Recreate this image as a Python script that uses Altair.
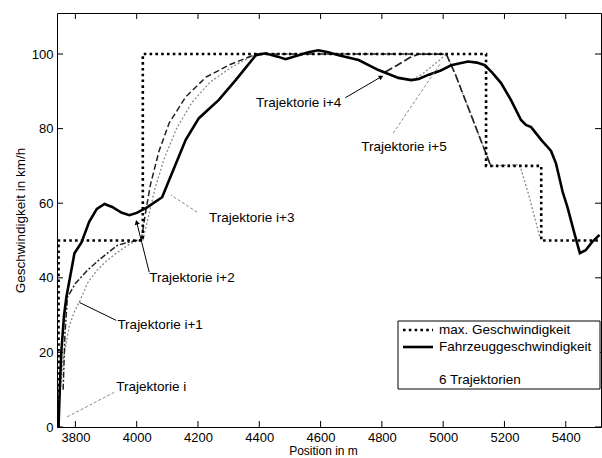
import altair as alt
import pandas as pd

# ---------------- data ----------------
x_ticks = [3800, 4000, 4200, 4400, 4600, 4800, 5000, 5200, 5400]
y_ticks = [0, 20, 40, 60, 80, 100]

vmax_pos = [3745, 3745, 4020, 4020, 5140, 5140, 5320, 5320, 5515]
vmax_val = [0, 50, 50, 100, 100, 70, 70, 50, 50]

veh_pos = [3745, 3749, 3754, 3763, 3771, 3780, 3797, 3820, 3845, 3870, 3895, 3920,
           3950, 3976, 4000, 4034, 4083, 4106, 4160, 4203, 4268, 4323, 4389, 4420,
           4460, 4486, 4528, 4560, 4593, 4625, 4659, 4724, 4789, 4854, 4896, 4920,
           4951, 4990, 5026, 5081, 5110, 5136, 5160, 5189, 5221, 5254, 5270, 5287,
           5320, 5352, 5368, 5390, 5406, 5428, 5446, 5465, 5485, 5510]
veh_val = [0, 10, 20, 30, 35, 39, 46.6, 49.5, 55, 58.5, 59.8, 59,
           57.5, 56.8, 57.4, 58.9, 61.6, 66.2, 77, 82.8, 87.7, 93, 99.7, 100.2,
           99.3, 98.6, 99.7, 100.5, 101, 100.5, 99.7, 98.4, 95.7, 93.6, 93, 93.3,
           94.4, 95.5, 97, 98, 97.7, 97, 95, 92.2, 87.7, 82.3, 81, 80.4,
           77, 74, 70.7, 63, 58.8, 52, 46.6, 47.4, 49.5, 51.5]

# six trajectories
tr0_pos = [3760, 3766, 3774, 3800, 3839, 3880, 3937, 3980, 4018]
tr0_val = [10, 25, 34.8, 38.5, 42, 45, 48.7, 49.7, 50.3]
tr1_pos = [3745, 3748, 3760, 3780, 3797, 3813, 3839, 3870, 3904, 3945, 3982, 4018]
tr1_val = [0, 7, 18, 27, 31, 33.5, 38.5, 42, 44.7, 47.3, 49.3, 50.3]
tr2_pos = [4015, 4030, 4045, 4073, 4106, 4160, 4226, 4300, 4389, 4900]
tr2_val = [50, 58, 65, 74, 81.5, 88.5, 93.8, 97, 100, 100]
tr3_pos = [4020, 4040, 4060, 4090, 4130, 4180, 4240, 4310, 4390]
tr3_val = [50, 57, 64, 72, 80, 87, 92.5, 96.5, 100]
tr4_pos = [4811, 4850, 4890, 4920, 5010, 5040, 5080, 5120, 5146, 5155]
tr4_val = [95.2, 97, 99, 100, 100, 94.5, 86, 77.5, 72, 70]
tr5_pos = [4900, 4930, 4960, 4990, 5010, 5040, 5080, 5120, 5146, 5155, 5250, 5280, 5315]
tr5_val = [93.2, 94.5, 96.5, 98.5, 100, 94.5, 86, 77.5, 72, 70, 70.3, 62, 51]

# annotations (label anchor and pointer end, in data units)
ann_text = ["Trajektorie i", "Trajektorie i+1", "Trajektorie i+2",
            "Trajektorie i+3", "Trajektorie i+4", "Trajektorie i+5"]
ann_pos = [3933, 3937, 4041, 4236, 4389, 4733]
ann_val = [10.6, 27.3, 39.9, 56.0, 86.9, 75.1]
ptr_from_pos = [3927, 3933, 4041, 4197, 4681, 4837]
ptr_from_val = [9.3, 28.6, 41.5, 57.6, 88.3, 78.8]
ptr_to_pos = [3771, 3813, 4000, 4112, 4798, 4993]
ptr_to_val = [2.6, 33.4, 54.9, 62.2, 93.9, 97.7]
ptr_grey = [True, False, False, True, False, True]
# arrow heads on the black pointers (i+2, i+4)
arrow_pos = [4000, 4798]
arrow_val = [54.9, 93.9]
arrow_angle = [345, 60]

legend_labels = ["max. Geschwindigkeit", "Fahrzeuggeschwindigkeit", "6 Trajektorien"]

# ---------------- chart ----------------
W, H = 544, 414
FONT = "Liberation Sans"
xs = alt.Scale(domain=[3740, 5515], nice=False, zero=False)
ys = alt.Scale(domain=[0, 111], nice=False, zero=False)


def df_line(p, v):
    return pd.DataFrame({"pos": p, "v": v, "i": list(range(len(p)))})


def line_layer(p, v, **kw):
    return alt.Chart(df_line(p, v)).mark_line(**kw).encode(
        x=alt.X("pos:Q", scale=xs,
                axis=alt.Axis(values=x_ticks, title="Position in m", grid=False,
                              ticks=False, domain=False, labelFontSize=13,
                              labelFont=FONT, titleFont=FONT, titleFontSize=12,
                              titleFontWeight="normal", labelPadding=4,
                              titlePadding=1, labelColor="black", titleColor="black",
                              titleX=266, titleAnchor="middle",
                              format="d")),
        y=alt.Y("v:Q", scale=ys,
                axis=alt.Axis(values=y_ticks, title="Geschwindigkeit in km/h", grid=False,
                              ticks=False, domain=False, labelFontSize=13,
                              labelFont=FONT, titleFont=FONT, titleFontSize=13.5,
                              titleFontWeight="normal", labelPadding=4,
                              titlePadding=4, labelColor="black", titleColor="black")),
        order="i:Q",
    )


layers = []
layers.append(line_layer(tr1_pos, tr1_val, color="#8a8a8a", strokeWidth=1.3, strokeDash=[2, 2]))
layers.append(line_layer(tr0_pos, tr0_val, color="#222222", strokeWidth=1.5, strokeDash=[6, 2, 2, 2]))
layers.append(line_layer(tr3_pos, tr3_val, color="#8a8a8a", strokeWidth=1.3, strokeDash=[2, 2]))
layers.append(line_layer(tr2_pos, tr2_val, color="#222222", strokeWidth=1.5, strokeDash=[6, 3]))
layers.append(line_layer(tr5_pos, tr5_val, color="#8a8a8a", strokeWidth=1.3, strokeDash=[2, 2]))
layers.append(line_layer(tr4_pos, tr4_val, color="#222222", strokeWidth=1.7, strokeDash=[8, 3]))
layers.append(line_layer(vmax_pos, vmax_val, color="black", strokeWidth=2.6, strokeDash=[2.6, 3.2]))
layers.append(line_layer(veh_pos, veh_val, color="black", strokeWidth=2.6))

# inward tick marks
xt = pd.DataFrame({"t": x_ticks})
yt = pd.DataFrame({"t": y_ticks})
tick_style = dict(color="black", strokeWidth=1)
layers.append(alt.Chart(xt).mark_rule(**tick_style).encode(
    x=alt.X("t:Q", scale=xs), y=alt.value(H), y2=alt.value(H - 6)))
layers.append(alt.Chart(xt).mark_rule(**tick_style).encode(
    x=alt.X("t:Q", scale=xs), y=alt.value(0), y2=alt.value(6)))
layers.append(alt.Chart(yt).mark_rule(**tick_style).encode(
    y=alt.Y("t:Q", scale=ys), x=alt.value(0), x2=alt.value(6)))
layers.append(alt.Chart(yt).mark_rule(**tick_style).encode(
    y=alt.Y("t:Q", scale=ys), x=alt.value(W), x2=alt.value(W - 6)))

# annotation pointers
ptr = pd.DataFrame({"p1": ptr_from_pos, "v1": ptr_from_val,
                    "p2": ptr_to_pos, "v2": ptr_to_val, "grey": ptr_grey})
layers.append(alt.Chart(ptr[~ptr.grey]).mark_rule(color="black", strokeWidth=1).encode(
    x=alt.X("p1:Q", scale=xs), y=alt.Y("v1:Q", scale=ys), x2="p2:Q", y2="v2:Q"))
layers.append(alt.Chart(ptr[ptr.grey]).mark_rule(color="#8a8a8a", strokeWidth=1,
                                                 strokeDash=[3, 2]).encode(
    x=alt.X("p1:Q", scale=xs), y=alt.Y("v1:Q", scale=ys), x2="p2:Q", y2="v2:Q"))
arr = pd.DataFrame({"p": arrow_pos, "v": arrow_val, "a": arrow_angle})
layers.append(alt.Chart(arr).mark_point(shape="triangle-up", filled=True, color="black",
                                        size=28, opacity=1).encode(
    x=alt.X("p:Q", scale=xs), y=alt.Y("v:Q", scale=ys), angle=alt.Angle("a:Q", scale=None)))

ann = pd.DataFrame({"t": ann_text, "p": ann_pos, "v": ann_val})
layers.append(alt.Chart(ann).mark_text(align="left", baseline="middle", font=FONT,
                                       fontSize=13.5, color="black").encode(
    x=alt.X("p:Q", scale=xs), y=alt.Y("v:Q", scale=ys), text="t:N"))

# legend box
leg = pd.DataFrame({"a": [0]})
layers.append(alt.Chart(leg).mark_rect(fill="white", stroke="black", strokeWidth=1).encode(
    x=alt.value(341), x2=alt.value(543), y=alt.value(308), y2=alt.value(376)))
layers.append(alt.Chart(leg).mark_rule(color="black", strokeWidth=2.6, strokeDash=[2.6, 3.2]).encode(
    x=alt.value(346), x2=alt.value(376), y=alt.value(317)))
layers.append(alt.Chart(leg).mark_rule(color="black", strokeWidth=2.6).encode(
    x=alt.value(346), x2=alt.value(376), y=alt.value(334)))
legt = pd.DataFrame({"t": legend_labels, "k": [0, 1, 2]})
for k, yy in zip([0, 1, 2], [317, 334, 367]):
    layers.append(alt.Chart(legt[legt.k == k]).mark_text(
        align="left", baseline="middle", font=FONT, fontSize=13.5, color="black").encode(
        x=alt.value(382), y=alt.value(yy), text="t:N"))

chart = alt.layer(*layers).properties(
    width=W, height=H,
    autosize=alt.AutoSizeParams(type="none"),
    padding={"left": 57, "top": 13, "right": 1, "bottom": 31},
    background="white",
).configure_view(stroke="black", strokeWidth=1)

chart.save("out.html", embed_options={"renderer": "svg", "actions": False})
